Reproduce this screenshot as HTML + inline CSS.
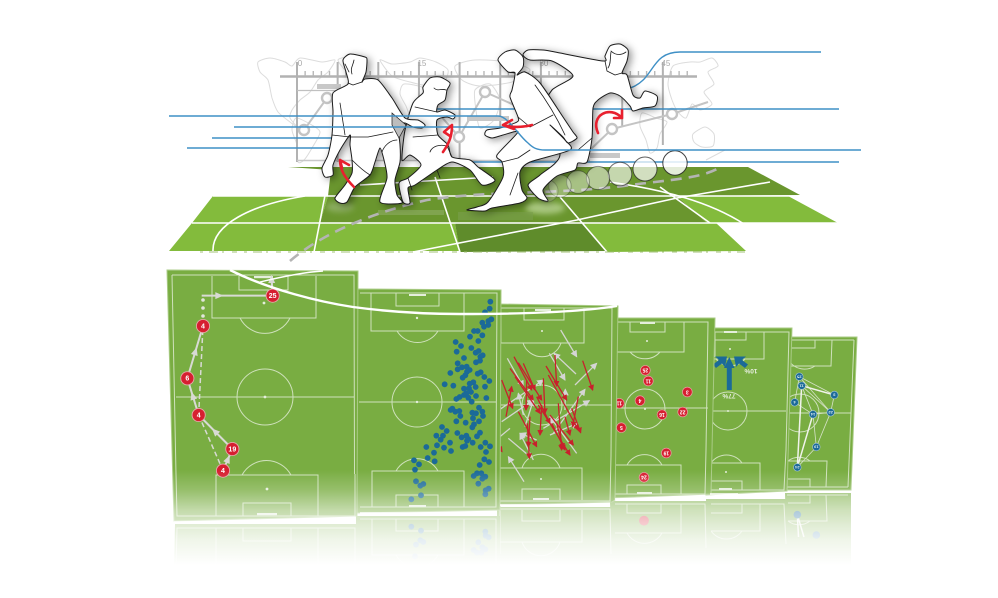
<!DOCTYPE html>
<html lang="en">
<head>
<meta charset="utf-8">
<title>Football match analysis illustration</title>
<style>
html,body{margin:0;padding:0;background:#fff;width:998px;height:598px;overflow:hidden}
svg{display:block;font-family:"Liberation Sans",sans-serif}
.pl{fill:none;stroke:#cfe1bc;stroke-width:1}
.fl{fill:none;stroke:#fff;stroke-width:1.6}
.pb{fill:#fff;stroke:#1a1a1a;stroke-width:1;stroke-linejoin:round}
.in{fill:none;stroke:#1a1a1a;stroke-width:.8;stroke-linejoin:round;stroke-linecap:round}
.bl{fill:none;stroke:#3f90c6;stroke-width:1.4}
.mp{fill:none;stroke:#dcdcdc;stroke-width:1}
</style>
</head>
<body>
<svg id="art" xmlns="http://www.w3.org/2000/svg" width="998" height="598" viewBox="0 0 998 598">
<defs>
<filter id="sh" x="-30%" y="-30%" width="170%" height="170%"><feDropShadow dx="3" dy="2" stdDeviation="4" flood-color="#000" flood-opacity=".4"/></filter>
<filter id="bl" x="-40%" y="-80%" width="180%" height="260%"><feGaussianBlur stdDeviation="3"/></filter>
<marker id="hr" markerWidth="7" markerHeight="7" refX="5" refY="3" orient="auto" markerUnits="userSpaceOnUse"><path d="M0 0L6 3L0 6Z" fill="#c8202c"/></marker>
<marker id="hg" markerWidth="8" markerHeight="8" refX="6" refY="3.5" orient="auto" markerUnits="userSpaceOnUse"><path d="M0 0L7 3.5L0 7Z" fill="#d5d5d5"/></marker>
<linearGradient id="fade" x1="0" y1="0" x2="0" y2="1">
<stop offset="0" stop-color="#fff" stop-opacity="0"/>
<stop offset=".2" stop-color="#fff" stop-opacity=".22"/>
<stop offset=".4" stop-color="#fff" stop-opacity=".55"/>
<stop offset=".55" stop-color="#fff" stop-opacity=".72"/>
<stop offset=".7" stop-color="#fff" stop-opacity=".86"/>
<stop offset=".95" stop-color="#fff" stop-opacity="1"/>
</linearGradient>
</defs>

<!-- TOP FIELD -->
<g id="field">
<polygon fill="#83bb3c" points="213,196 328,196 320,223 455,223 460,251 169,251 192,223"/>
<polygon fill="#6a962e" points="288,167 748,167 800,195 677,196 707,223 320,223 328,196 331,170"/>
<polygon fill="#5f8c2b" points="455,223 583,223 607,251 460,252"/>
<polygon fill="#83bb3c" points="677,196 788,196 838,223 707,223"/>
<polygon fill="#83bb3c" points="583,223 716,223 746,251 607,252"/>
<g class="fl">
<path d="M213 196H790"/>
<path d="M192 223H838"/>
<path d="M360 185L493 177"/>
<path d="M328 180L314 252"/>
<path d="M435 177L460 252"/>
<path d="M560 197L607 252"/>
<path d="M660 187L710 223"/>
<path d="M305 196C250 205 212 225 213 251"/>
<path d="M610 182C665 190 710 202 744 224"/>
<path d="M413 252L577 220L677 198L770 182"/>
</g>
<path d="M200 252H745" fill="none" stroke="#9dbd70" stroke-width="1.2" stroke-dasharray="3 6 9 4 2 8 5 7" opacity=".75"/>
<ellipse cx="545" cy="208" rx="20" ry="6" fill="#a9c77f" filter="url(#bl)"/>
<ellipse cx="340" cy="207" rx="14" ry="5" fill="#8daf62" filter="url(#bl)"/>
<rect x="378" y="210" width="66" height="5" fill="#8fae66" opacity=".6"/>
<rect x="458" y="212" width="75" height="8" fill="#7a9e4c" opacity=".6"/>
</g>

<!-- MAP AND TIMELINE -->
<g id="map" class="mp">
<path class="smooth" data-pts="258,62 270,58 285,62 292,66 300,58 322,62 335,60 328,72 318,80 310,92 300,100 292,110 290,118 298,128 290,122 278,112 272,98 268,80 260,72"/>
<path class="smooth" data-pts="296,118 310,124 320,132 312,148 304,160 298,162 297,145 292,130"/>
<path class="smooth" data-pts="338,60 350,57 358,64 348,72"/>
<path class="smooth" data-pts="380,60 392,64 410,62 420,58 436,62 448,70 444,82 430,86 410,82 392,76"/>
<path class="smooth" data-pts="404,84 424,88 430,100 420,114 412,120 406,106 400,94"/>
<path class="smooth" data-pts="455,66 475,60 510,62 530,70 512,82 480,86 462,80"/>
<path class="smooth" data-pts="475,90 490,84 500,100 494,120 480,128 476,110"/>
<path class="smooth" data-pts="642,113 656,118 667,122 660,134 657,148 650,153 646,140 640,126"/>
<path class="smooth" data-pts="673,66 690,62 700,62 712,58 718,66 708,72 714,84 704,92 712,104 700,110 692,104 686,118 678,112 672,100 668,84"/>
<path class="smooth" data-pts="693,134 705,127 714,134 713,146 702,147 694,142"/>
<path d="M706 160L725 150"/>
</g>
<g id="timeline"></g>
<g stroke="#c4c4c4" stroke-width="2" fill="none">
<path d="M304 130L327 98M459 137L485 92L530 112M612 129L672 114L708 102M459 137L440 115M590 150L612 129"/>
<g fill="#fff" stroke-width="2.4">
<circle cx="304" cy="130" r="5"/>
<circle cx="327" cy="98" r="5"/>
<circle cx="459" cy="137" r="5"/>
<circle cx="485" cy="92" r="5"/>
<circle cx="612" cy="129" r="5"/>
<circle cx="672" cy="114" r="5"/>
</g>
<g stroke="none" fill="#c8c8c8">
<rect x="317" y="84" width="24" height="5"/>
<rect x="467" y="116" width="42" height="5"/>
<rect x="590" y="153" width="30" height="5"/>
</g>
</g>

<!-- BLUE LINES BEHIND PLAYERS -->
<g id="tracks-back" class="bl">
<path d="M212 138H340"/>
<path d="M187 148H340"/>
<path d="M437 109H839"/>
<path d="M460 162H839"/>
<path d="M630 88C655 80 650 52 680 52H821"/>
</g>

<!-- DASHED FLIGHT PATH -->
<path d="M290 261C320 235 370 213 427 200C490 190 560 195 630 185C670 180 700 178 717 169" fill="none" stroke="#b4b4b4" stroke-width="2.6" stroke-dasharray="11 7"/>

<!-- BALLS -->
<g id="balls"></g>

<!-- PLAYERS -->
<g filter="url(#sh)">
<path class="pb smooth" data-pts="605,56 610,46 620,44 628,50 627,61 622,73 627,75 633,95 640,98 645,91 657,96 655,106 643,108 633,111 630,106 620,96 610,93 598,100 593,108 592,138 587,162 578,163 575,170 557,176 543,190 548,201 538,198 528,185 540,175 560,155 545,110 552,90 573,76 552,61 530,60 523,55 528,50 543,50 555,52 603,61"/>
<path class="in" d="M605 61L607 71L615 75L622 73M592 138L578 150M611 51C616 56 622 55 626 52M611 52C610 58 611 64 608 68"/>
</g>
<g filter="url(#sh)">
<path class="pb smooth" data-pts="423,87 430,78 440,77 450,83 447,90 445,100 438,105 437,112 445,110 455,115 453,119 447,117 437,120 438,135 448,145 452,157 470,160 478,167 495,180 482,185 470,170 452,162 437,170 415,185 408,188 410,203 403,202 399,183 408,178 421,165 410,155 402,160 405,130 413,103 423,93"/>
<path class="in" d="M413 137L438 135M430 152C432 146 440 144 447 146L452 157M415 107L437 112M408 178L412 190M437 170L440 178M434 88C438 92 441 88 446 90"/>
</g>
<g filter="url(#sh)">
<path class="pb smooth" data-pts="498,60 505,52 515,50 523,57 523,67 517,75 525,72 540,83 563,117 573,132 577,138 568,143 563,137 550,125 565,140 570,150 530,162 520,172 522,190 527,198 520,203 492,208 485,211 467,210 477,207 488,202 503,177 502,162 497,155 518,132 503,135 492,138 485,135 487,130 500,128 517,122 518,117 510,97 512,90 515,73 508,72"/>
<path class="in" d="M535 85C550 105 558 120 565 135M518 117L530 127L553 115M502 162L518 158L530 150M510 195L518 173M508 72L515 73"/>
</g>
<g filter="url(#sh)">
<path class="pb smooth" data-pts="343,60 350,54 365,57 367,60 366,72 362,82 365,79 378,80 392,98 405,118 418,120 425,125 422,128 413,127 405,123 398,125 400,145 400,162 395,180 397,195 402,203 380,202 387,178 384,160 380,148 375,162 370,175 355,187 347,202 340,203 335,198 345,185 352,173 352,160 350,145 350,135 340,150 333,165 333,175 325,177 322,168 328,155 332,135 333,112 333,93 348,84 346,72"/>
<path class="in" d="M340 103L345 135M332 135L350 137L368 137L393 132M382 152C384 146 390 140 397 140M348 83L353 85L362 82M352 160C360 168 365 172 370 175M354 60C353 66 350 68 352 74M345 64L349 72"/>
<polygon points="392,113 406,125 399,138 392,125" fill="#bdbdbd" stroke="#1a1a1a" stroke-width=".7"/>
</g>

<!-- BLUE LINES OVER PLAYERS -->
<g id="tracks-front" class="bl">
<path d="M169 116H498C508 116 518 135 528 143C533 148 537 150 545 150H861"/>
<path d="M234 127H512"/>
</g>

<!-- RED MOVEMENT ARROWS -->
<g fill="none" stroke="#e8202e" stroke-width="2.6" stroke-linecap="round" stroke-linejoin="round">
<path d="M354 187C345 178 340 170 340 160M340 160L342 168M340 160L349 165"/>
<path d="M443 152C450 142 452 135 452 125M452 125L444 132L450 136"/>
<path d="M532 125C520 128 510 127 503 125L512 120M503 125L514 129"/>
<path d="M598 133C590 115 610 105 622 118M622 118L622 110M622 118L614 118"/>
</g>

<!-- REFLECTIONS -->
<g id="reflections" opacity=".8">
<g transform="translate(0,982) scale(1,-1)">
<polygon points="787,412 851,412 851,489 785,489" fill="#79ad42"/>
<use class="pl" href="#p6-bottom"/>
<g id="refl-6"></g>
</g>
<g transform="translate(0,994) scale(1,-1)">
<polygon points="708,424 787,424 787,495 706,495" fill="#79ad42"/>
<use class="pl" href="#p5-bottom"/>
</g>
<g transform="translate(0,998) scale(1,-1)">
<polygon points="612,428 711,428 711,497 610,497" fill="#79ad42"/>
<use class="pl" href="#p4-bottom"/>
<g id="refl-4"></g>
</g>
<g transform="translate(0,1010) scale(1,-1)">
<polygon points="497,440 615,440 615,503 497,503" fill="#79ad42"/>
<use class="pl" href="#p3-bottom"/>
</g>
<g transform="translate(0,1026) scale(1,-1)">
<polygon points="356,456 500,456 500,510 356,510" fill="#79ad42"/>
<use class="pl" href="#p2-bottom"/>
<g id="refl-2"></g>
</g>
<g transform="translate(0,1044) scale(1,-1)">
<polygon points="174,474 357,474 357,520 175,520" fill="#79ad42"/>
<use class="pl" href="#p1-bottom"/>
</g>
</g>

<!-- PITCHES -->
<g id="pitch-6">
<polygon points="785,337 857,337 851,490 782,490" fill="#79ad42" stroke="#a9cb85"/>
<g class="pl">
<path d="M854 340L848 487M792 340H854M787 413H851"/>
<path d="M792 340H832L831 366H790"/>
<path d="M792 340H815L815 348H790"/>
<path d="M789 361A19 19 0 0 0 815 366"/>
<circle cx="800" cy="413" r="19"/>
<g id="p6-bottom">
<path d="M788 461H827L826 487M788 479H810V487M787 487H848M788 461A18 18 0 0 1 810 461"/>
</g>
</g>
<g id="network"></g>
</g>

<g id="pitch-5">
<polygon points="712,328 792,328 787,491 706,495" fill="#79ad42" stroke="#a9cb85"/>
<g class="pl">
<path d="M715 332H789L786 450M712 411H786"/>
<path d="M715 332V357"/>
<path d="M715 332H764V359H713"/>
<path d="M715 340H746V332"/>
<circle cx="728" cy="411" r="19"/>
<path d="M716 359A19 19 0 0 0 745 359"/>
<g id="p5-bottom">
<path d="M786 450L784 490H710M710 463H760V490M710 481H742V490M711 463A19 19 0 0 1 742 463"/>
</g>
</g>
<rect x="724" y="331" width="13" height="2" fill="#e4eedb"/>
<rect x="719" y="488" width="13" height="2" fill="#e4eedb"/>
<circle cx="728" cy="411" r="1" fill="#e4eedb"/>
<circle cx="730" cy="349" r="1" fill="#e4eedb"/>
<circle cx="726" cy="472" r="1" fill="#e4eedb"/>
<g id="direction"></g>
</g>

<g id="pitch-4">
<polygon points="612,318 715,318 711,494 610,498" fill="#79ad42" stroke="#a9cb85"/>
<g class="pl">
<path d="M618 322H708L706 450"/>
<path d="M615 408H708"/>
<path d="M618 322H684V352H616M630 322V332H665V322"/>
<circle cx="645" cy="409" r="20"/>
<path d="M630 352A20 20 0 0 0 660 352"/>
<g id="p4-bottom">
<path d="M706 450L705 494H615M615 465H681V494M627 494V485H661V494M627 465A20 20 0 0 1 662 465"/>
</g>
</g>
<rect x="640" y="322" width="15" height="2" fill="#e4eedb"/>
<rect x="637" y="492" width="15" height="2" fill="#e4eedb"/>
<circle cx="645" cy="409" r="1" fill="#e4eedb"/>
<circle cx="647" cy="341" r="1" fill="#e4eedb"/>
<g id="positions"></g>
</g>

<g id="pitch-3">
<polygon points="497,304 618,306 615,500 612,502 497,505" fill="#79ad42" stroke="#a9cb85"/>
<g class="pl">
<path d="M501 308H612L611 456M500 308V456"/>
<path d="M500 405H612"/>
<path d="M501 308V343H584V308M524 308V320H564V308"/>
<circle cx="542" cy="405" r="20"/>
<path d="M523 343A20 20 0 0 0 561 343"/>
<g id="p3-bottom">
<path d="M611 456L610 501H500V456M500 468H582V500M522 500V489H560V500M522 468A20 20 0 0 1 560 468"/>
</g>
</g>
<rect x="535" y="309" width="16" height="2" fill="#e4eedb"/>
<rect x="533" y="498" width="16" height="2" fill="#e4eedb"/>
<circle cx="542" cy="331" r="1" fill="#e4eedb"/>
<circle cx="541" cy="479" r="1" fill="#e4eedb"/>
<g id="arrows-grey"></g>
<g id="arrows-red"></g>
</g>

<g id="pitch-2">
<polygon points="356,289 501,290 500,510 356,513" fill="#79ad42" stroke="#a9cb85"/>
<g class="pl">
<path d="M360 293H497L496 462"/>
<path d="M359 402H496"/>
<path d="M371 293V331H464V293M396 293V306H439V293"/>
<circle cx="417" cy="402" r="25"/>
<path d="M397 331A24 24 0 0 0 438 331"/>
<g id="p2-bottom">
<path d="M496 462V507H360M372 507V471H464V507M396 507V495H438V507M396 471A24 24 0 0 1 438 471"/>
</g>
</g>
<rect x="409" y="294" width="17" height="2" fill="#e4eedb"/>
<rect x="409" y="505" width="17" height="2" fill="#e4eedb"/>
<circle cx="417" cy="402" r="1.2" fill="#e4eedb"/>
<circle cx="417" cy="318" r="1.2" fill="#e4eedb"/>
<g id="touches"></g>
</g>

<g id="pitch-1">
<polygon points="167,270 358,271 357,516 174,521" fill="#79ad42" stroke="#a9cb85"/>
<g class="pl">
<path d="M172 275H354L354.5 474M172 275L176 474"/>
<path d="M176 397H354"/>
<path d="M212 276V318H316V276M239 276V290H288V276"/>
<circle cx="265" cy="397" r="28"/>
<path d="M240 318A28 28 0 0 0 290 318"/>
<g id="p1-bottom">
<path d="M176 474L177 516H355V474M216 516V475H318V516M243 516V503H291V516M242 475A28 28 0 0 1 291 475"/>
</g>
</g>
<rect x="254" y="276" width="19" height="2.2" fill="#e4eedb"/>
<rect x="257" y="513" width="20" height="2.2" fill="#e4eedb"/>
<circle cx="265" cy="397" r="1.4" fill="#e4eedb"/>
<circle cx="264" cy="303" r="1.4" fill="#e4eedb"/>
<circle cx="267" cy="489" r="1.4" fill="#e4eedb"/>
<g id="sequence"></g>
</g>

<!-- FADE AND OVERLAYS -->
<rect x="150" y="470" width="730" height="100" fill="url(#fade)"/>
<rect x="150" y="568" width="730" height="30" fill="#fff"/>
<g stroke="#fff" stroke-width="1.6">
<path d="M174 522H335M360 513H466M500 505H576M615 499H664M710 494H738"/>
</g>
<path d="M230 270C270 290 320 302 353 307C390 312 430 314 460 314C520 314 580 312 617 306" fill="none" stroke="#fff" stroke-width="2.4"/>
<path d="M260 282C285 276 305 272 323 271" fill="none" stroke="#fff" stroke-width="1.4"/>
</svg>

<script>
// ---------- chart data ----------
const minuteLabels = ['0', '15', '30', '45'];
const minuteTicks = [0, 15, 30, 45];

// Ball flight frames, newest first
const ballX = [675, 645, 620, 598, 578, 560, 547];
const ballY = [163, 169, 174, 178, 182, 186, 191];
const ballFade = [1, 0.85, 0.75, 0.62, 0.5, 0.38, 0.26];

// Panel 2: touch positions in pitch units
const touches = [[396,25],[394,46],[380,57],[399,78],[390,83],[372,88],[377,100],[390,95],[347,113],[358,113],[372,126],[335,130],[360,143],[292,146],[308,158],[339,164],[295,175],[352,178],[361,173],[366,190],[373,186],[317,194],[298,210],[353,207],[365,202],[311,222],[325,220],[298,228],[276,239],[334,230],[326,235],[358,241],[367,237],[378,251],[321,246],[313,253],[393,263],[259,273],[285,277],[317,286],[334,271],[345,267],[332,285],[352,281],[380,280],[338,296],[317,305],[324,300],[353,308],[294,317],[304,311],[330,313],[340,325],[384,314],[362,343],[277,350],[282,346],[291,355],[303,353],[306,368],[342,358],[353,360],[372,355],[374,368],[344,375],[294,384],[322,388],[362,384],[347,393],[342,402],[251,401],[265,413],[297,419],[356,429],[365,418],[234,427],[254,427],[247,439],[310,432],[324,427],[326,442],[330,437],[343,448],[275,448],[236,456],[257,463],[313,461],[321,458],[367,461],[381,448],[395,459],[204,461],[278,473],[383,476],[227,478],[208,494],[229,504],[167,501],[378,498],[392,506],[182,513],[364,515],[170,529],[356,540],[369,540],[346,548],[381,550],[372,556],[173,564],[195,572],[186,577],[360,571],[391,586],[382,591],[381,603],[188,606],[159,618]];

// Panel 3: pass start/end in pitch units
const greyPasses = [[212,90,260,170],[178,160,225,240],[258,222,192,160],[255,255,320,190],[35,365,130,300],[30,328,160,240],[190,400,285,268],[160,385,298,302],[180,405,262,370],[225,330,226,268],[102,545,55,470],[140,420,90,400],[130,480,90,400],[260,460,180,350],[100,345,85,280],[105,380,130,300],[52,175,100,260]];
const greyStubs = [[30,410,60,385],[120,470,55,415]];
const redPasses = [[195,165,200,258],[278,182,308,270],[168,198,230,300],[175,225,265,390],[48,350,65,260],[35,240,68,325],[60,205,130,300],[72,170,125,270],[85,188,155,300],[100,190,135,270],[160,235,165,340],[75,230,150,340],[110,240,108,330],[265,290,248,380],[245,325,272,398],[145,315,240,465],[155,315,150,405],[85,335,140,440],[112,370,118,475],[180,345,250,435],[205,310,215,450],[225,350,240,405],[185,370,225,450],[30,445,36,455],[120,350,115,440],[140,290,180,370],[200,370,220,445]];

// Panel 4: average positions in pitch units, with shirt numbers
const positionX = [466,475,450,388,592,578,516,394,529,462];
const positionY = [211,243,302,310,276,336,344,383,459,532];
const positionShirt = ['25','11','4','11','3','22','16','5','19','24'];

// Panel 1: move sequence in pitch units
const moveX = [189,217,116,82,129];
const moveY = [617,552,450,340,183];
const moveShirt = ['4','19','4','6','4'];
const finishX = 338;
const finishY = 92;
const finishShirt = '25';

// Panel 5: attack direction shares
const shareLabels = ['77%', '10%'];

// Panel 6: network nodes and edges
const nodeX = [298,305,403,284,339,392,349,292];
const nodeY = [185,212,240,262,298,292,396,457];
const nodeShirt = ['25','11','3','4','14','22','19','24'];
const strongEdges = [[1,2],[7,1],[7,4]];
const weakEdges = [[0,2],[1,5],[2,5],[4,5],[4,6],[6,7],[5,6],[0,5],[3,0],[3,4],[1,4]];

// ---------- helpers ----------
const NS = 'http://www.w3.org/2000/svg';
function mk(tag, parent, attrs) {
  const el = document.createElementNS(NS, tag);
  for (const k in attrs) el.setAttribute(k, attrs[k]);
  parent.appendChild(el);
  return el;
}
const g = id => document.getElementById(id);

// closed smooth outlines for hand-traced silhouettes
document.querySelectorAll('.smooth').forEach(el => {
  const p = el.getAttribute('data-pts').trim().split(/\s+/).map(s => s.split(',').map(Number));
  const n = p.length, k = 1 / 8;
  let d = 'M' + p[0][0] + ' ' + p[0][1];
  for (let i = 0; i < n; i++) {
    const a = p[(i - 1 + n) % n], b = p[i], c = p[(i + 1) % n], e = p[(i + 2) % n];
    d += 'C' + (b[0] + (c[0] - a[0]) * k).toFixed(1) + ' ' + (b[1] + (c[1] - a[1]) * k).toFixed(1) + ' ' +
         (c[0] - (e[0] - b[0]) * k).toFixed(1) + ' ' + (c[1] - (e[1] - b[1]) * k).toFixed(1) + ' ' + c[0] + ' ' + c[1];
  }
  el.setAttribute('d', d + 'Z');
});

// axis functions
const x1 = u => 160 + u / 3, y1 = v => 265 + v / 3;
const x2 = u => 358.33 + u / 3, y2 = v => 293.33 + v / 3;
const x3 = u => 490 + u / 3, y3 = v => 300 + v / 3;
const x5 = u => 700 + u / 3, y5 = v => 315 + v / 3;
const minuteX = m => 297 + m * 8.13;

// ---------- timeline ----------
const tlRoot = g('timeline');
const bar = mk('line', tlRoot, {x1: 280, y1: 76.5, x2: 697, y2: 76.5, 'stroke-width': 2.6, stroke: '#b2b2b2'});


for (let m = 0; m <= 48; m++) {
  const t = mk('line', tlRoot, {x1: minuteX(m), x2: minuteX(m), y1: 71, y2: 76, stroke: '#b8b8b8', 'stroke-width': 1.4});
  
  
}
const tallBottoms = [162, 162, 130, 130, 160, 127, 127, 127, 127, 145];
tallBottoms.forEach((b, i) => {
  const v = mk('line', tlRoot, {x1: minuteX(i * 5), x2: minuteX(i * 5), y1: 62, y2: b, stroke: '#b2b2b2', 'stroke-width': 2});
  
  
});
const floorLine = mk('line', tlRoot, {x1: 297, x2: 590, y1: 160.5, y2: 160.5, stroke: '#c8c8c8', 'stroke-width': 1.6});


const upperRail = mk('line', tlRoot, {x1: 297, x2: 340, y1: 90.5, y2: 90.5, stroke: '#c0c0c0', 'stroke-width': 1.2});


minuteTicks.forEach((m, i) => {
  const t = mk('text', tlRoot, {x: minuteX(m) + 3, y: 66, 'font-size': 8, fill: '#a8a8a8', 'text-anchor': 'middle', stroke: 'none'});
  
  
  t.textContent = minuteLabels[i];
});

// ---------- balls ----------
ballFade.forEach((op, i) => {
  const c = mk('circle', g('balls'), {cx: ballX[i], cy: ballY[i], r: 12.2 - i * 0.2, fill: '#fff', 'fill-opacity': op * 0.82, stroke: '#222', 'stroke-opacity': op * 0.85, 'stroke-width': 1});
  
  
});

// ---------- panel 2 ----------
touches.forEach(p => {
  const c = mk('circle', g('touches'), {cx: x2(p[0]), cy: y2(p[1]), r: 2.9, fill: '#1b6a98'});
  
  
  if (y2(p[1]) > 465) {
    const r = mk('circle', g('refl-2'), {cx: x2(p[0]), cy: y2(p[1]), r: 2.9, fill: '#1b6a98'});
    
    
  }
});

// ---------- panel 3 ----------
greyPasses.forEach(p => {
  const l = mk('line', g('arrows-grey'), {x1: x3(p[0]), y1: y3(p[1]), x2: x3(p[2]), y2: y3(p[3]), stroke: '#d3d6cf', 'stroke-width': 1.3, 'marker-end': 'url(#hg)'});
  
  
});
greyStubs.forEach(p => {
  const l = mk('line', g('arrows-grey'), {x1: x3(p[0]), y1: y3(p[1]), x2: x3(p[2]), y2: y3(p[3]), stroke: '#d3d6cf', 'stroke-width': 1.3});
  
  
});
redPasses.forEach(p => {
  const l = mk('line', g('arrows-red'), {x1: x3(p[0]), y1: y3(p[1]), x2: x3(p[2]), y2: y3(p[3]), stroke: '#c8202c', 'stroke-width': 1.3, 'marker-end': 'url(#hr)'});
  
  
});

// ---------- panel 4 ----------
positionX.forEach((u, i) => {
  const cx = x3(u), cy = y3(positionY[i]);
  const c = mk('circle', g('positions'), {cx: cx, cy: cy, r: 4.9, fill: '#d61f30', stroke: '#e9a0a4', 'stroke-width': .7});
  
  
  const t = mk('text', g('positions'), {x: cx, y: cy + 1.7, 'font-size': 5, 'font-weight': 'bold', fill: '#fff', 'text-anchor': 'middle', transform: 'rotate(180 ' + cx + ' ' + cy + ')'});
  
  
  t.textContent = positionShirt[i];
  if (cy > 465) {
    const r = mk('circle', g('refl-4'), {cx: cx, cy: cy, r: 4.9, fill: '#d61f30'});
    
    
  }
});

// ---------- panel 1 ----------
const seqRoot = g('sequence');
const solidPts = moveX.map((u, i) => x1(u) + ',' + y1(moveY[i])).join(' ');
const solid = mk('polyline', seqRoot, {points: solidPts, fill: 'none', stroke: '#d8dad4', 'stroke-width': 2});


const dashA = mk('line', seqRoot, {x1: x1(moveX[0]) - 3, y1: y1(moveY[0]) - 7, x2: x1(moveX[2]), y2: y1(moveY[2]), stroke: '#d8dad4', 'stroke-width': 1.5, 'stroke-dasharray': '5 3'});


const dashB = mk('line', seqRoot, {x1: x1(moveX[2]), y1: y1(moveY[2]), x2: x1(moveX[4]), y2: y1(moveY[4]), stroke: '#d8dad4', 'stroke-width': 1.5, 'stroke-dasharray': '5 3'});


for (let i = 0; i < moveX.length - 1; i++) {
  const mx = x1((moveX[i] + moveX[i + 1]) / 2), my = y1((moveY[i] + moveY[i + 1]) / 2);
  const a = Math.atan2(moveY[i + 1] - moveY[i], moveX[i + 1] - moveX[i]) * 180 / Math.PI;
  const h = mk('path', seqRoot, {d: 'M5 0L-3 -3.5L-3 3.5Z', fill: '#d8dad4', transform: 'translate(' + mx + ' ' + my + ') rotate(' + a + ')'});
  
  
}
const last = moveX.length - 1;
[0, 1, 2].forEach(i => {
  const d = mk('circle', seqRoot, {cx: x1(moveX[last]), cy: y1(moveY[last]) - 10 - i * 8, r: 1.8, fill: '#e2e6dc'});
  
  
});
const run = mk('line', seqRoot, {x1: x1(finishX - 213), y1: y1(finishY), x2: x1(finishX), y2: y1(finishY), stroke: '#d8dad4', 'stroke-width': 2});


const runHead = mk('path', seqRoot, {d: 'M5 0L-3 -3.5L-3 3.5Z', fill: '#d8dad4', transform: 'translate(' + x1(finishX - 163) + ' ' + y1(finishY) + ')'});


const shot = mk('line', seqRoot, {x1: x1(finishX), y1: y1(finishY), x2: x1(finishX - 3), y2: y1(finishY - 47), stroke: '#d8dad4', 'stroke-width': 2});


const shotHead = mk('path', seqRoot, {d: 'M0 -5L-3.5 3L3.5 3Z', fill: '#d8dad4', transform: 'translate(' + x1(finishX - 3) + ' ' + y1(finishY - 47) + ')'});


moveX.concat([finishX]).forEach((u, i) => {
  const v = i < moveY.length ? moveY[i] : finishY;
  const label = i < moveShirt.length ? moveShirt[i] : finishShirt;
  const c = mk('circle', seqRoot, {cx: x1(u), cy: y1(v), r: 6.6, fill: '#d61f30', stroke: '#e4a8a8', 'stroke-width': .9});
  
  
  const t = mk('text', seqRoot, {x: x1(u), y: y1(v) + 2.4, 'font-size': 7, 'font-weight': 'bold', fill: '#fff', 'text-anchor': 'middle'});
  
  
  t.textContent = label;
});

// ---------- panel 5 ----------
const dirRoot = g('direction');
const main = mk('path', dirRoot, {d: 'M726.8 390V368H724L729.3 357L734.6 368H731.8V390Z', fill: '#1b6a98'});


const sideL = mk('path', dirRoot, {d: 'M713 364.5L719 360L715 356.5L727 356.5L725 367L722 363.5L716 368Z', fill: '#1b6a98'});


const sideR = mk('path', dirRoot, {d: 'M748 364.5L742 360L746 356.5L734 356.5L736 367L739 363.5L745 368Z', fill: '#1b6a98'});


const shareA = mk('text', dirRoot, {x: 729, y: 398, 'font-size': 6.5, 'font-weight': 'bold', fill: '#e8efe0', 'text-anchor': 'middle', transform: 'rotate(180 729 396)'});


shareA.textContent = shareLabels[0];
const shareB = mk('text', dirRoot, {x: 751, y: 373, 'font-size': 6.5, 'font-weight': 'bold', fill: '#e8efe0', 'text-anchor': 'middle', transform: 'rotate(180 751 371)'});


shareB.textContent = shareLabels[1];

// ---------- panel 6 ----------
const netRoot = g('network');
const reflBase = 445;
weakEdges.forEach(e => {
  const l = mk('line', netRoot, {x1: x5(nodeX[e[0]]), y1: y5(nodeY[e[0]]), x2: x5(nodeX[e[1]]), y2: y5(nodeY[e[1]]), stroke: '#d6e2c8', 'stroke-width': .8});
  
  
});
strongEdges.forEach(e => {
  const ax = x5(nodeX[e[0]]), ay = y5(nodeY[e[0]]), bx = x5(nodeX[e[1]]), by = y5(nodeY[e[1]]);
  const l = mk('line', netRoot, {x1: ax, y1: ay, x2: bx, y2: by, stroke: '#f0f3ea', 'stroke-width': 1.5});
  
  
  if (ay > reflBase) {
    const f = (ay - reflBase) / (ay - by);
    const r = mk('line', g('refl-6'), {x1: ax, y1: ay, x2: ax + (bx - ax) * f, y2: reflBase, stroke: '#f0f3ea', 'stroke-width': 1.5});
    
    
  }
});
nodeX.forEach((u, i) => {
  const cx = x5(u), cy = y5(nodeY[i]);
  const c = mk('circle', netRoot, {cx: cx, cy: cy, r: 3.8, fill: '#1b6a98', stroke: '#a8c6d4', 'stroke-width': .6});
  
  
  const t = mk('text', netRoot, {x: cx, y: cy + 1.4, 'font-size': 4, 'font-weight': 'bold', fill: '#e6f0f6', 'text-anchor': 'middle', transform: 'rotate(180 ' + cx + ' ' + cy + ')'});
  
  
  t.textContent = nodeShirt[i];
  if (cy > reflBase) {
    const r = mk('circle', g('refl-6'), {cx: cx, cy: cy, r: 3.8, fill: '#1b6a98'});
    
    
  }
});
</script>
</body>
</html>
